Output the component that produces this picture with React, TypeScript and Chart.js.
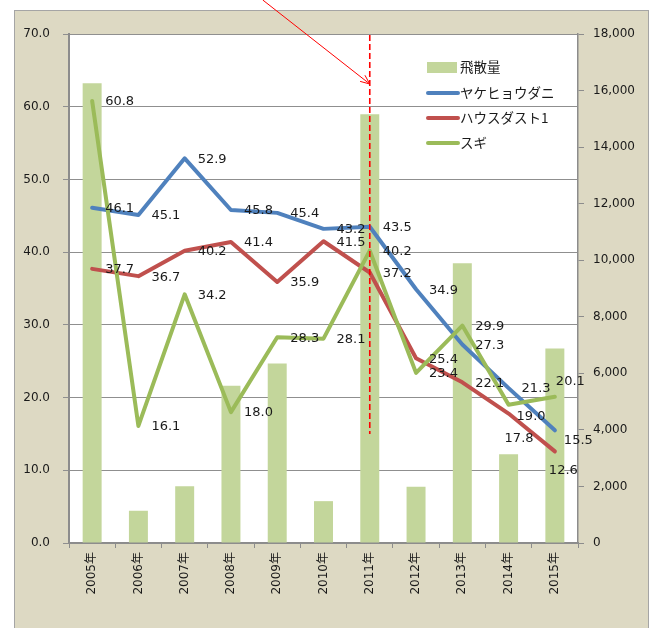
import React, { useEffect, useRef } from 'react';
import { Chart, registerables } from 'chart.js';

Chart.register(...registerables);

const years = ['2005年', '2006年', '2007年', '2008年', '2009年', '2010年', '2011年', '2012年', '2013年', '2014年', '2015年'];
const pollen = [16260, 1140, 2010, 5560, 6350, 1480, 15160, 1990, 9890, 3140, 6880];
const mite = [46.1, 45.1, 52.9, 45.8, 45.4, 43.2, 43.5, 34.9, 27.3, 21.3, 15.5];
const houseDust = [37.7, 36.7, 40.2, 41.4, 35.9, 41.5, 37.2, 25.4, 22.1, 17.8, 12.6];
const sugi = [60.8, 16.1, 34.2, 18.0, 28.3, 28.1, 40.2, 23.4, 29.9, 19.0, 20.1];
const seriesNames = ['飛散量', 'ヤケヒョウダニ', 'ハウスダスト1', 'スギ'];
const leftAxis = { min: 0, max: 70, step: 10 };
const rightAxis = { min: 0, max: 18000, step: 2000 };
const markedYear = '2011年';

const NUM_FONT = '"DejaVu Sans", "Noto Sans CJK JP", sans-serif';
const JP_FONT = '"Noto Sans CJK JP", "DejaVu Sans", sans-serif';

// label offsets (dx, dy) for particular points: key = datasetIndex:pointIndex
const labelOffsets: Record<string, [number, number]> = {
  '3:9': [8, 12],
  '2:9': [-4, 25],
  '3:10': [1, -15],
  '1:10': [9, 10],
  '2:10': [-6, 19],
};

const backgroundPlugin = {
  id: 'bgPlugin',
  beforeDraw(chart: any) {
    const { ctx, chartArea } = chart;
    ctx.save();
    ctx.fillStyle = '#ffffff';
    ctx.fillRect(0, 0, chart.width, chart.height);
    ctx.fillStyle = '#ddd9c3';
    ctx.fillRect(14, 10, 634, 640);
    ctx.strokeStyle = '#a5a5a5';
    ctx.lineWidth = 1;
    ctx.strokeRect(14.5, 10.5, 634, 640);
    ctx.fillStyle = '#ffffff';
    ctx.fillRect(chartArea.left, chartArea.top, chartArea.right - chartArea.left, chartArea.bottom - chartArea.top);
    ctx.restore();
  },
};

const labelPlugin = {
  id: 'pointLabels',
  afterDatasetsDraw(chart: any) {
    const { ctx } = chart;
    ctx.save();
    ctx.font = '13px ' + NUM_FONT;
    ctx.fillStyle = '#1a1a1a';
    ctx.textAlign = 'left';
    ctx.textBaseline = 'middle';
    chart.data.datasets.forEach((ds: any, di: number) => {
      if (ds.type !== 'line') return;
      const meta = chart.getDatasetMeta(di);
      meta.data.forEach((pt: any, i: number) => {
        const off = labelOffsets[di + ':' + i] || [13, 1];
        ctx.fillText(Number(ds.data[i]).toFixed(1), pt.x + off[0], pt.y + off[1]);
      });
    });
    ctx.restore();
  },
};

const markerPlugin = {
  id: 'marker',
  afterDatasetsDraw(chart: any) {
    const { ctx, chartArea, scales } = chart;
    const x = scales.x.getPixelForValue(years.indexOf(markedYear));
    const yBottom = scales.y.getPixelForValue(15);
    ctx.save();
    ctx.strokeStyle = '#ff0000';
    ctx.lineWidth = 1.6;
    ctx.setLineDash([6, 3]);
    ctx.beginPath();
    ctx.moveTo(x, chartArea.top + 1);
    ctx.lineTo(x, yBottom);
    ctx.stroke();
    // arrow
    ctx.setLineDash([]);
    ctx.lineWidth = 1;
    const tipX = x;
    const tipY = chartArea.top + 50;
    const sx = tipX - 107;
    const sy = tipY - 84;
    ctx.beginPath();
    ctx.moveTo(sx, sy);
    ctx.lineTo(tipX, tipY);
    ctx.stroke();
    const ang = Math.atan2(tipY - sy, tipX - sx);
    const len = 10;
    ctx.beginPath();
    ctx.moveTo(tipX - len * Math.cos(ang - 0.4), tipY - len * Math.sin(ang - 0.4));
    ctx.lineTo(tipX, tipY);
    ctx.lineTo(tipX - len * Math.cos(ang + 0.4), tipY - len * Math.sin(ang + 0.4));
    ctx.stroke();
    ctx.restore();
  },
};

const legendPlugin = {
  id: 'insideLegend',
  afterDraw(chart: any) {
    const { ctx, chartArea } = chart;
    const x0 = chartArea.right - 151;
    const ys = [chartArea.top + 33, chartArea.top + 59, chartArea.top + 84, chartArea.top + 109];
    ctx.save();
    ctx.font = '13.5px ' + JP_FONT;
    ctx.textAlign = 'left';
    ctx.textBaseline = 'middle';
    chart.data.datasets.forEach((ds: any, i: number) => {
      const y = ys[i];
      if (ds.type === 'bar') {
        ctx.fillStyle = ds.backgroundColor;
        ctx.fillRect(x0, y - 5, 30, 11);
      } else {
        ctx.strokeStyle = ds.borderColor;
        ctx.lineWidth = 4;
        ctx.lineCap = 'round';
        ctx.beginPath();
        ctx.moveTo(x0 + 1, y);
        ctx.lineTo(x0 + 31, y);
        ctx.stroke();
      }
      ctx.fillStyle = '#1a1a1a';
      ctx.fillText(ds.label, x0 + 33, y);
    });
    ctx.restore();
  },
};

export default function App() {
  const ref = useRef<HTMLCanvasElement>(null);
  useEffect(() => {
    if (!ref.current) return;
    const lineCommon = {
      type: 'line' as const,
      yAxisID: 'y',
      borderWidth: 4,
      pointRadius: 0,
      pointHoverRadius: 0,
      tension: 0,
      borderJoinStyle: 'round' as const,
      borderCapStyle: 'round' as const,
      fill: false,
    };
    const chart = new Chart(ref.current, {
      data: {
        labels: years,
        datasets: [
          {
            type: 'bar',
            label: seriesNames[0],
            data: pollen,
            yAxisID: 'y1',
            backgroundColor: '#c3d69b',
            barPercentage: 0.41,
            categoryPercentage: 1,
            order: 4,
          },
          { ...lineCommon, label: seriesNames[1], data: mite, borderColor: '#4f81bd', backgroundColor: '#4f81bd', order: 3 },
          { ...lineCommon, label: seriesNames[2], data: houseDust, borderColor: '#c0504d', backgroundColor: '#c0504d', order: 2 },
          { ...lineCommon, label: seriesNames[3], data: sugi, borderColor: '#9bbb59', backgroundColor: '#9bbb59', order: 1 },
        ] as any,
      },
      options: {
        responsive: false,
        animation: false,
        devicePixelRatio: 1,
        layout: { padding: { top: 34, left: 0, right: 0, bottom: 0 } },
        plugins: {
          legend: { display: false },
          tooltip: { enabled: false },
        },
        scales: {
          x: {
            type: 'category',
            offset: true,
            grid: { offset: true, drawOnChartArea: false, drawTicks: true, tickLength: 5, color: '#8c8c8c' },
            border: { color: '#8c8c8c', width: 1.5 },
            ticks: {
              autoSkip: false,
              minRotation: 90,
              maxRotation: 90,
              padding: 4,
              color: '#1a1a1a',
              font: { family: NUM_FONT, size: 12 },
            },
            afterFit: (s: any) => { s.height = 85; },
          },
          y: {
            type: 'linear',
            position: 'left',
            min: leftAxis.min,
            max: leftAxis.max,
            ticks: {
              stepSize: leftAxis.step,
              padding: 13,
              color: '#1a1a1a',
              font: { family: NUM_FONT, size: 12 },
              callback: (v: any) => Number(v).toFixed(1),
            },
            grid: { color: '#8f8f8f', lineWidth: 1, tickLength: 6 },
            border: { color: '#8c8c8c', width: 2 },
            afterFit: (s: any) => { s.width = 69; },
          },
          y1: {
            type: 'linear',
            position: 'right',
            min: rightAxis.min,
            max: rightAxis.max,
            ticks: {
              stepSize: rightAxis.step,
              padding: 9,
              color: '#1a1a1a',
              font: { family: NUM_FONT, size: 12 },
            },
            grid: { drawOnChartArea: false, drawTicks: true, tickLength: 6, color: '#8c8c8c' },
            border: { color: '#8c8c8c', width: 1.5 },
            afterFit: (s: any) => { s.width = 77; },
          },
        },
      } as any,
      plugins: [backgroundPlugin, markerPlugin, labelPlugin, legendPlugin],
    });
    return () => chart.destroy();
  }, []);
  return (
    <div style={{ position: 'absolute', left: 0, top: 0, width: 655, height: 628, overflow: 'hidden' }}>
      <canvas ref={ref} width={655} height={628} style={{ display: 'block', width: 655, height: 628 }} />
    </div>
  );
}
